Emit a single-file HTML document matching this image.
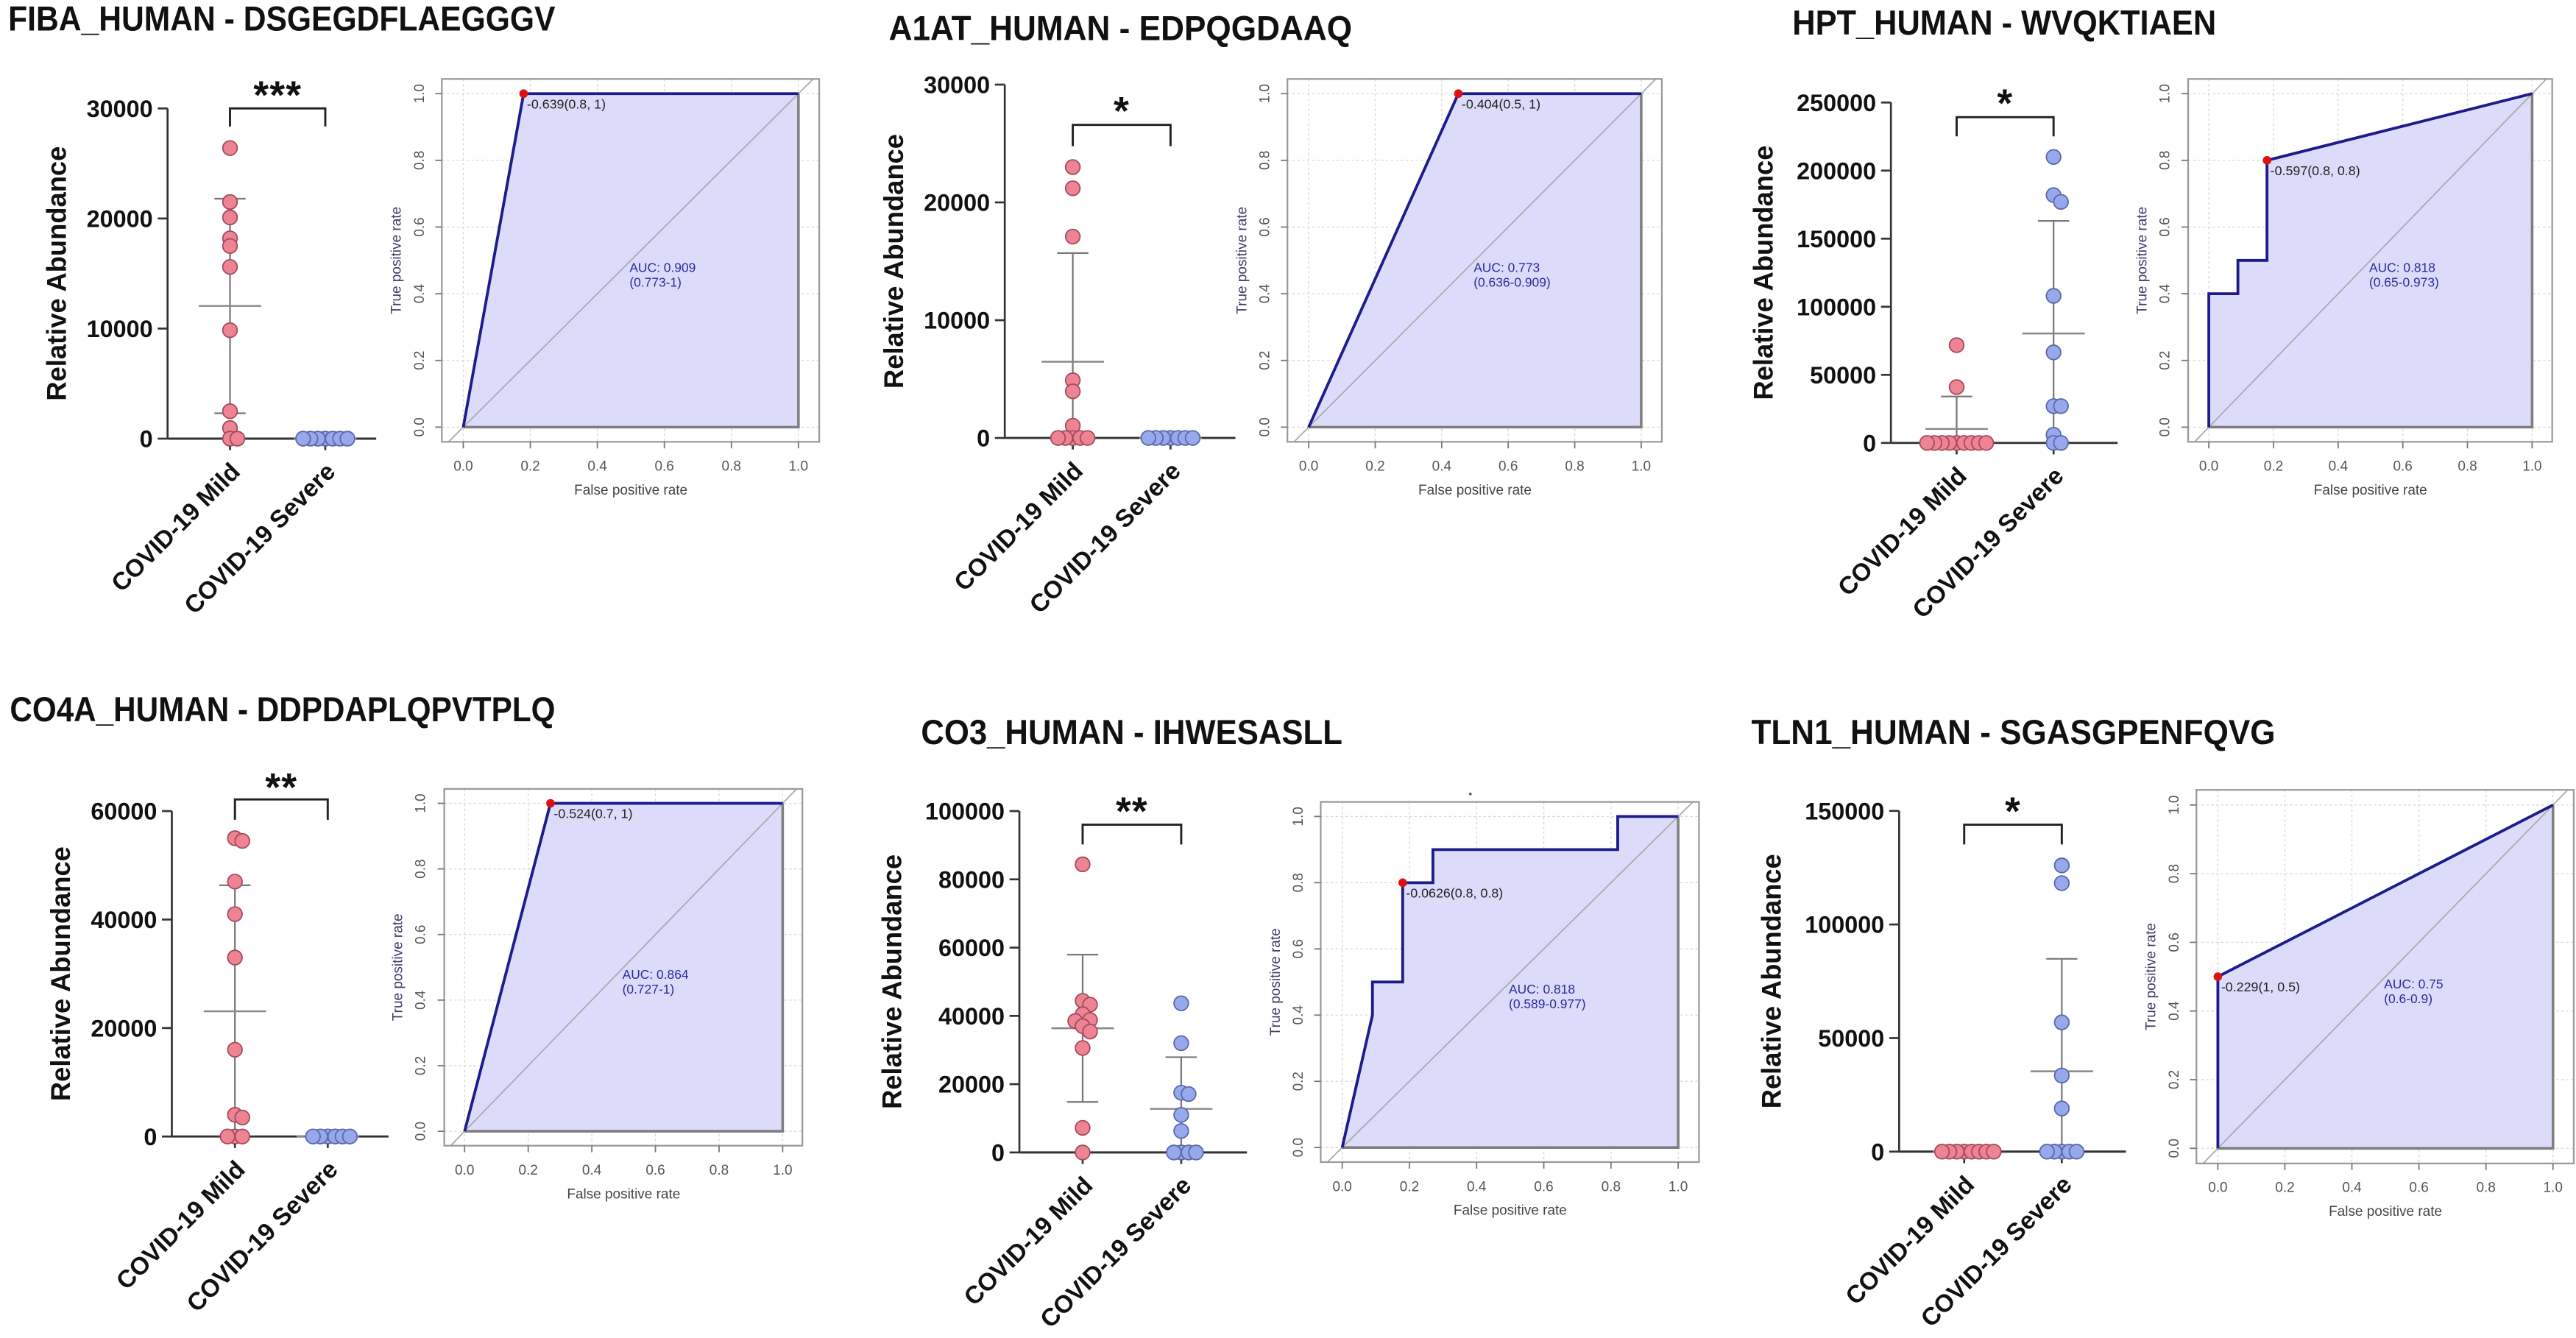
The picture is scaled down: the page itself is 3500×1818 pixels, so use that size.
<!DOCTYPE html>
<html><head><meta charset="utf-8"><title>Peptide abundance and ROC panels</title>
<style>
html,body{margin:0;padding:0;background:#fff;}
svg{display:block;font-family:"Liberation Sans",Arial,sans-serif;}
</style></head>
<body>
<svg id="fig" width="3500" height="1818" viewBox="0 0 1568 814.45" preserveAspectRatio="none" xmlns="http://www.w3.org/2000/svg">
<rect x="0" y="0" width="1568" height="814.45" fill="#fff"/>
<circle cx="895" cy="483.3" r="0.8" fill="#555"/>
</svg>
<script>
// ---------- data ----------
const panelTitles = ["FIBA_HUMAN - DSGEGDFLAEGGGV","A1AT_HUMAN - EDPQGDAAQ","HPT_HUMAN - WVQKTIAEN","CO4A_HUMAN - DDPDAPLQPVTPLQ","CO3_HUMAN - IHWESASLL","TLN1_HUMAN - SGASGPENFQVG"];
const categories = ["COVID-19 Mild","COVID-19 Severe"];
const significance = ["***","*","*","**","**","*"];

const fibaMild = [26400,21500,20100,18200,17500,15600,9850,2490,960,0,0];
const fibaSevere = [0,0,0,0,0,0,0];
const a1atMild = [23000,21200,17100,4900,3960,1040,0,0,0,0,0];
const a1atSevere = [0,0,0,0,0,0,0];
const hptMild = [71800,41000,0,0,0,0,0,0,0,0,0];
const hptSevere = [210000,182000,177000,108000,66500,27000,27000,6000,0,0];
const co4aMild = [55000,54500,47000,41000,33000,16000,4000,3500,0,0,0];
const co4aSevere = [0,0,0,0,0,0];
const co3Mild = [84400,44400,43300,40500,38800,38500,37000,35400,30600,7200,0];
const co3Severe = [43700,32000,17500,17100,11000,6300,0,0,0,0];
const tln1Mild = [0,0,0,0,0,0,0,0];
const tln1Severe = [126000,118200,56900,33500,19000,0,0,0,0,0];

const yAxisMax = [30000,30000,250000,60000,100000,150000];
const yAxisStep = [10000,10000,50000,20000,20000,50000];

const fibaFpr = [0,0.18,1];             const fibaTpr = [0,1,1];
const a1atFpr = [0,0.45,1];             const a1atTpr = [0,1,1];
const hptFpr = [0,0,0.09,0.09,0.18,0.18,1];  const hptTpr = [0,0.4,0.4,0.5,0.5,0.8,1];
const co4aFpr = [0,0.27,1];             const co4aTpr = [0,1,1];
const co3Fpr = [0,0.09,0.09,0.18,0.18,0.27,0.27,0.82,0.82,1]; const co3Tpr = [0,0.4,0.5,0.5,0.8,0.8,0.9,0.9,1,1];
const tln1Fpr = [0,0,1];                const tln1Tpr = [0,0.5,1];
const bestFpr = [0.18,0.45,0.18,0.27,0.18,0];
const bestTpr = [1,1,0.8,1,0.8,0.5];
const bestLabels = ["-0.639(0.8, 1)","-0.404(0.5, 1)","-0.597(0.8, 0.8)","-0.524(0.7, 1)","-0.0626(0.8, 0.8)","-0.229(1, 0.5)"];
const aucValues = ["AUC: 0.909","AUC: 0.773","AUC: 0.818","AUC: 0.864","AUC: 0.818","AUC: 0.75"];
const aucCI = ["(0.773-1)","(0.636-0.909)","(0.65-0.973)","(0.727-1)","(0.589-0.977)","(0.6-0.9)"];
const rocTicks = [0,0.2,0.4,0.6,0.8,1];
const rocTickLabels = ["0.0","0.2","0.4","0.6","0.8","1.0"];

const mildSets = [fibaMild,a1atMild,hptMild,co4aMild,co3Mild,tln1Mild];
const severeSets = [fibaSevere,a1atSevere,hptSevere,co4aSevere,co3Severe,tln1Severe];
const fprSets = [fibaFpr,a1atFpr,hptFpr,co4aFpr,co3Fpr,tln1Fpr];
const tprSets = [fibaTpr,a1atTpr,hptTpr,co4aTpr,co3Tpr,tln1Tpr];

// ---------- layout (preview units) ----------
const titleLayout = [
 {x:5,y:18.5,w:333},{x:541,y:24.5,w:282},{x:1091,y:21,w:258},
 {x:6,y:439,w:332},{x:560.6,y:453,w:256.5},{x:1066,y:453,w:319}];
const scatterLayout = [
 {ax:102,y0:267,yTop:66,mx:140,sx:198,end:229,br:66,leg:77,star:53},
 {ax:611.6,y0:266.6,yTop:51.5,mx:653,sx:712.5,end:752,br:76,leg:89,star:62.7},
 {ax:1151,y0:269.6,yTop:62.4,mx:1191,sx:1250,end:1289,br:71.3,leg:83,star:58},
 {ax:104.6,y0:691.8,yTop:493.7,mx:143,sx:199.5,end:236.5,br:486.6,leg:499,star:474.5},
 {ax:620.5,y0:701.5,yTop:493.7,mx:659,sx:719,end:759,br:502,leg:514,star:489},
 {ax:1156,y0:701,yTop:493.6,mx:1195.6,sx:1255,end:1294,br:502,leg:514,star:489}];
const rocLayout = [
 {x0:282,x1:486,y1:57,y0:260},{x0:796.6,x1:999,y1:57,y0:260},{x0:1344.5,x1:1541.3,y1:57,y0:260},
 {x0:282.8,x1:476.4,y1:489,y0:688.6},{x0:817,x1:1021.5,y1:497,y0:698.5},{x0:1350,x1:1554,y1:490,y0:699}];

const svg = document.getElementById('fig');
const NS = 'http://www.w3.org/2000/svg';
function mk(tag, attrs, parent){ const e=document.createElementNS(NS,tag); for(const k in attrs) e.setAttribute(k,attrs[k]); (parent||svg).appendChild(e); return e; }
function txt(str, attrs, parent){ const e=mk('text',attrs,parent); e.textContent=str; return e; }
function mean(a){ return a.reduce((s,v)=>s+v,0)/a.length; }
function sd(a){ if(a.length<2) return 0; const m=mean(a); return Math.sqrt(a.reduce((s,v)=>s+(v-m)*(v-m),0)/(a.length-1)); }

function swarm(values, cx, yS, d){
  const placed=[]; const step=d*0.5, minD=d*0.5;
  const order=values.map((v,i)=>i).sort((a,b)=>values[b]-values[a]);
  const out=new Array(values.length);
  order.forEach(i=>{
    const py=yS(values[i]);
    for(let k=0;k<40;k++){
      const off = k===0?0:(k%2? Math.ceil(k/2):-Math.ceil(k/2))*step;
      const px=cx+off;
      if(placed.every(p=>Math.hypot(p[0]-px,p[1]-py)>=minD-0.01)){ placed.push([px,py]); out[i]=[px,py]; break; }
    }
  });
  return out;
}

for(let p=0;p<6;p++){
  const g = mk('g',{});
  
  

  const T = titleLayout[p];
  const title = txt(panelTitles[p],{x:T.x,y:T.y,'font-size':21,'font-weight':'bold',fill:'#111',textLength:T.w,lengthAdjust:'spacingAndGlyphs'},g);
  
  

  // ---------- scatter ----------
  const L = scatterLayout[p];
  const max = yAxisMax[p], stepV = yAxisStep[p];
  const yS = v => L.y0 - v/max*(L.y0-L.yTop);
  const sg = mk('g',{},g);
  
  

  const yAxis = mk('line',{x1:L.ax,y1:yS(max),x2:L.ax,y2:L.y0,stroke:'#333','stroke-width':1.2},sg);
  
  
  let maxLen=0;
  for(let v=0; v<=max+1e-6; v+=stepV){
    const tk = mk('line',{x1:L.ax-6,y1:yS(v),x2:L.ax,y2:yS(v),stroke:'#333','stroke-width':1.2},sg);
    
    
    const lab = txt(String(v),{x:L.ax-9,y:yS(v)+5.2,'text-anchor':'end','font-size':14.5,'font-weight':'bold',fill:'#111'},sg);
    
    
    maxLen=Math.max(maxLen,String(v).length);
  }
  const xAxis = mk('line',{x1:L.ax,y1:L.y0,x2:L.end,y2:L.y0,stroke:'#333','stroke-width':1.3},sg);
  
  
  const yl = maxLen>=6?78:68;
  const ylab = txt('Relative Abundance',{x:0,y:0,'text-anchor':'middle','font-size':16.5,'font-weight':'bold',fill:'#111',textLength:155,lengthAdjust:'spacingAndGlyphs',transform:`translate(${L.ax-yl+6},${(L.yTop+L.y0)/2}) rotate(-90)`},sg);
  
  

  const groups = [[mildSets[p],L.mx,'#ee8394','#a14b5c','mild'],[severeSets[p],L.sx,'#97a8ec','#5a67a8','severe']];
  groups.forEach((gr,gi)=>{
    const [vals,cx,fill,stroke,key]=gr;
    const ct = mk('line',{x1:cx,y1:L.y0,x2:cx,y2:L.y0+7,stroke:'#333','stroke-width':1.2},sg);
    
    
    const cl = txt(categories[gi],{x:0,y:0,'text-anchor':'end','font-size':15,'font-weight':'bold',fill:'#111',transform:`translate(${cx+7},${L.y0+21}) rotate(-45)`},sg);
    
    
    const m=mean(vals), s=sd(vals);
    const hi=m+s, lo=Math.max(0,m-s);
    const eb = mk('line',{x1:cx,y1:yS(hi),x2:cx,y2:yS(lo),stroke:'#777','stroke-width':1},sg);
    
    
    const capH = mk('line',{x1:cx-9.5,y1:yS(hi),x2:cx+9.5,y2:yS(hi),stroke:'#777','stroke-width':1},sg);
    
    
    if(lo>0){
      const capL = mk('line',{x1:cx-9.5,y1:yS(lo),x2:cx+9.5,y2:yS(lo),stroke:'#777','stroke-width':1},sg);
      
      
    }
    const mb = mk('line',{x1:cx-19,y1:yS(m),x2:cx+19,y2:yS(m),stroke:'#888','stroke-width':1.1},sg);
    
    
    const pos = swarm(vals,cx,yS,9);
    pos.forEach(pt=>{
      const c = mk('circle',{cx:pt[0],cy:pt[1],r:4.4,fill:fill,stroke:stroke,'stroke-width':0.8},sg);
      
      
    });
  });
  const br = mk('path',{d:`M${L.mx},${L.leg} V${L.br} H${L.sx} V${L.leg}`,fill:'none',stroke:'#222','stroke-width':1.3},sg);
  
  
  const stars = txt(significance[p],{x:(L.mx+L.sx)/2,y:L.star+13,'text-anchor':'middle','font-size':24,'font-weight':'bold',fill:'#111','letter-spacing':0.5},sg);
  
  

  // ---------- ROC ----------
  const R = rocLayout[p];
  const xR = f => R.x0 + f*(R.x1-R.x0);
  const yR = t => R.y0 - t*(R.y0-R.y1);
  const rg = mk('g',{},g);
  
  
  const bl=xR(-0.064), br2=xR(1.062), bt=yR(1.044), bb=yR(-0.044);
  const cp = mk('clipPath',{id:'clip'+p},rg);
  mk('rect',{x:bl,y:bt,width:br2-bl,height:bb-bt},cp);
  rocTicks.forEach((t,i)=>{
    const gv = mk('line',{x1:xR(t),y1:bt,x2:xR(t),y2:bb,stroke:'#d8d8d8','stroke-width':0.6,'stroke-dasharray':'1.5 1.5'},rg);
    
    
    const gh = mk('line',{x1:bl,y1:yR(t),x2:br2,y2:yR(t),stroke:'#d8d8d8','stroke-width':0.6,'stroke-dasharray':'1.5 1.5'},rg);
    
    
  });
  const fpr=fprSets[p], tpr=tprSets[p];
  const pts = fpr.map((f,i)=>xR(f)+','+yR(tpr[i]));
  const area = mk('polygon',{points:pts.concat([xR(1)+','+yR(0), xR(0)+','+yR(0)]).join(' '),fill:'#dcdcfa',stroke:'#7f7f7f','stroke-width':1.6},rg);
  
  
  const diag = mk('line',{x1:xR(-0.2),y1:yR(-0.2),x2:xR(1.2),y2:yR(1.2),stroke:'#aaa','stroke-width':0.8,'clip-path':`url(#clip${p})`},rg);
  
  
  const curve = mk('polyline',{points:pts.join(' '),fill:'none',stroke:'#1c1c8e','stroke-width':1.7,'stroke-linejoin':'miter'},rg);
  
  
  const box = mk('rect',{x:bl,y:bt,width:br2-bl,height:bb-bt,fill:'none',stroke:'#999','stroke-width':1},rg);
  
  
  rocTicks.forEach((t,i)=>{
    const xt = mk('line',{x1:xR(t),y1:bb,x2:xR(t),y2:bb+4,stroke:'#777','stroke-width':0.8},rg);
    
    
    const xl = txt(rocTickLabels[i],{x:xR(t),y:R.y0+26.5,'text-anchor':'middle','font-size':8.5,fill:'#555'},rg);
    
    
    const yt = mk('line',{x1:bl-4,y1:yR(t),x2:bl,y2:yR(t),stroke:'#777','stroke-width':0.8},rg);
    
    
    const yl2 = txt(rocTickLabels[i],{x:0,y:0,'text-anchor':'middle','font-size':8.5,fill:'#555',transform:`translate(${R.x0-24},${yR(t)}) rotate(-90)`},rg);
    
    
  });
  const xt2 = txt('False positive rate',{x:xR(0.5),y:R.y0+41,'text-anchor':'middle','font-size':8.5,fill:'#444'},rg);
  
  
  const yt2 = txt('True positive rate',{x:0,y:0,'text-anchor':'middle','font-size':8.5,fill:'#3c3c66',transform:`translate(${R.x0-38},${yR(0.5)}) rotate(-90)`},rg);
  
  
  const dot = mk('circle',{cx:xR(bestFpr[p]),cy:yR(bestTpr[p]),r:2.6,fill:'#e01010'},rg);
  
  
  const dl = txt(bestLabels[p],{x:xR(bestFpr[p])+2,y:yR(bestTpr[p])+9,'font-size':8,fill:'#222'},rg);
  
  
  const a1 = txt(aucValues[p],{x:xR(0.496),y:yR(0.48)+3,'font-size':7.8,fill:'#2a2aa0'},rg);
  
  
  const a2 = txt(aucCI[p],{x:xR(0.496),y:yR(0.48)+12,'font-size':7.8,fill:'#2a2aa0'},rg);
  
  
}
</script>
</body></html>
